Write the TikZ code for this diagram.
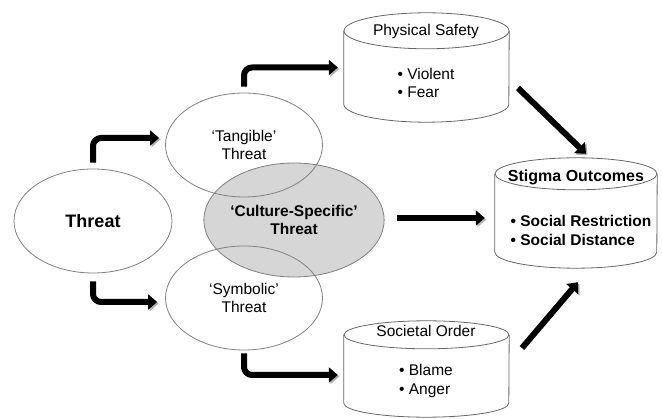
\documentclass[tikz,border=0pt]{standalone}
\usepackage{fontspec}
\setmainfont{Liberation Sans}
\usetikzlibrary{shapes.geometric,arrows.meta}

\tikzset{
  oval/.style={ellipse, draw=black!50, line width=0.8pt, inner sep=0pt, align=center},
  drum/.style={rectangle, inner sep=0pt},
  drumline/.style={draw=black!60, line width=0.8pt},
  bigarrow/.style={line width=6pt, rounded corners=8pt, -{Triangle[length=9pt,width=15pt]},
    preaction={draw=black!30, transform canvas={shift={(1.5pt,-1.5pt)}}}},
}

\begin{document}
\begin{tikzpicture}[x=1pt, y=-1pt, font=\fontsize{15.5}{18.5}\selectfont]
\useasboundingbox (0,0) rectangle (662,419);
%ovals
\node[oval, fill=black!16, minimum width=160pt, minimum height=114pt] (culture) at (294,220) {\textbf{‘Culture-Specific’}\\\textbf{Threat}};
\node[oval, minimum width=158pt, minimum height=104pt, font=\fontsize{18}{21}\selectfont\bfseries] (threat) at (93,221) {Threat};
\node[oval, minimum width=157pt, minimum height=104pt] (tangible) at (244,145) {‘Tangible’\\Threat};
\node[oval, minimum width=157pt, minimum height=104pt] (symbolic) at (244,298) {‘Symbolic’\\Threat};

%drums
\node[drum, minimum width=165pt, minimum height=109pt] (phys) at (426.5,67.5) {};
\node[drum, minimum width=165pt, minimum height=96pt] (soc) at (426.5,369) {};
\node[drum, minimum width=162pt, minimum height=110pt] (stigma) at (576,213) {};
\foreach \n/\w/\r in {phys/82.5/18, soc/82.5/14, stigma/81/16} {
  \draw[drumline] ([yshift=-\r pt]\n.north) ellipse [x radius=\w pt, y radius=\r pt];
  \draw[drumline] ([yshift=-\r pt]\n.north west) -- ([yshift=\r pt]\n.south west)
    arc [start angle=180, end angle=360, x radius=\w pt, y radius=\r pt] -- ([yshift=-\r pt]\n.north east);
}
\node (physhead) at (426,31) {Physical Safety};
\node[align=left] (physlist) at (426,83) {• Violent\\• Fear};
\node (sochead) at (426,331) {Societal Order};
\node[align=left] (soclist) at (426,381) {• Blame\\• Anger};
\node[font=\fontsize{16}{19}\selectfont\bfseries] (stigmahead) at (576,177) {Stigma Outcomes};
\node[align=left, font=\fontsize{15.5}{19}\selectfont\bfseries] (stigmalist) at (581,230) {• Social Restriction\\• Social Distance};

%arrows
\coordinate (physout) at (518,88);
\coordinate (socout) at (522,348);
\draw[bigarrow, shorten >=6pt] ([yshift=6pt]threat.north) |- ([yshift=7pt]tangible.west);
\draw[bigarrow, shorten >=8pt] ([yshift=-8pt]threat.south) |- ([yshift=-4pt]symbolic.west);
\draw[bigarrow, shorten >=6pt] ([yshift=6pt]tangible.north) |- (phys.west);
\draw[bigarrow, shorten >=6pt] ([yshift=-3pt]symbolic.south) |- ([yshift=-6pt]soc.west);
\draw[bigarrow, shorten <=12pt, shorten >=10pt] ([yshift=2pt]culture.east) -- ([yshift=2pt]culture.east -| stigma.west);
\draw[bigarrow] (physout) -- ([shift={(10pt,4pt)}]stigma.north);
\draw[bigarrow] (socout) -- ([shift={(2pt,-14pt)}]stigma.south);
\end{tikzpicture}
\end{document}
